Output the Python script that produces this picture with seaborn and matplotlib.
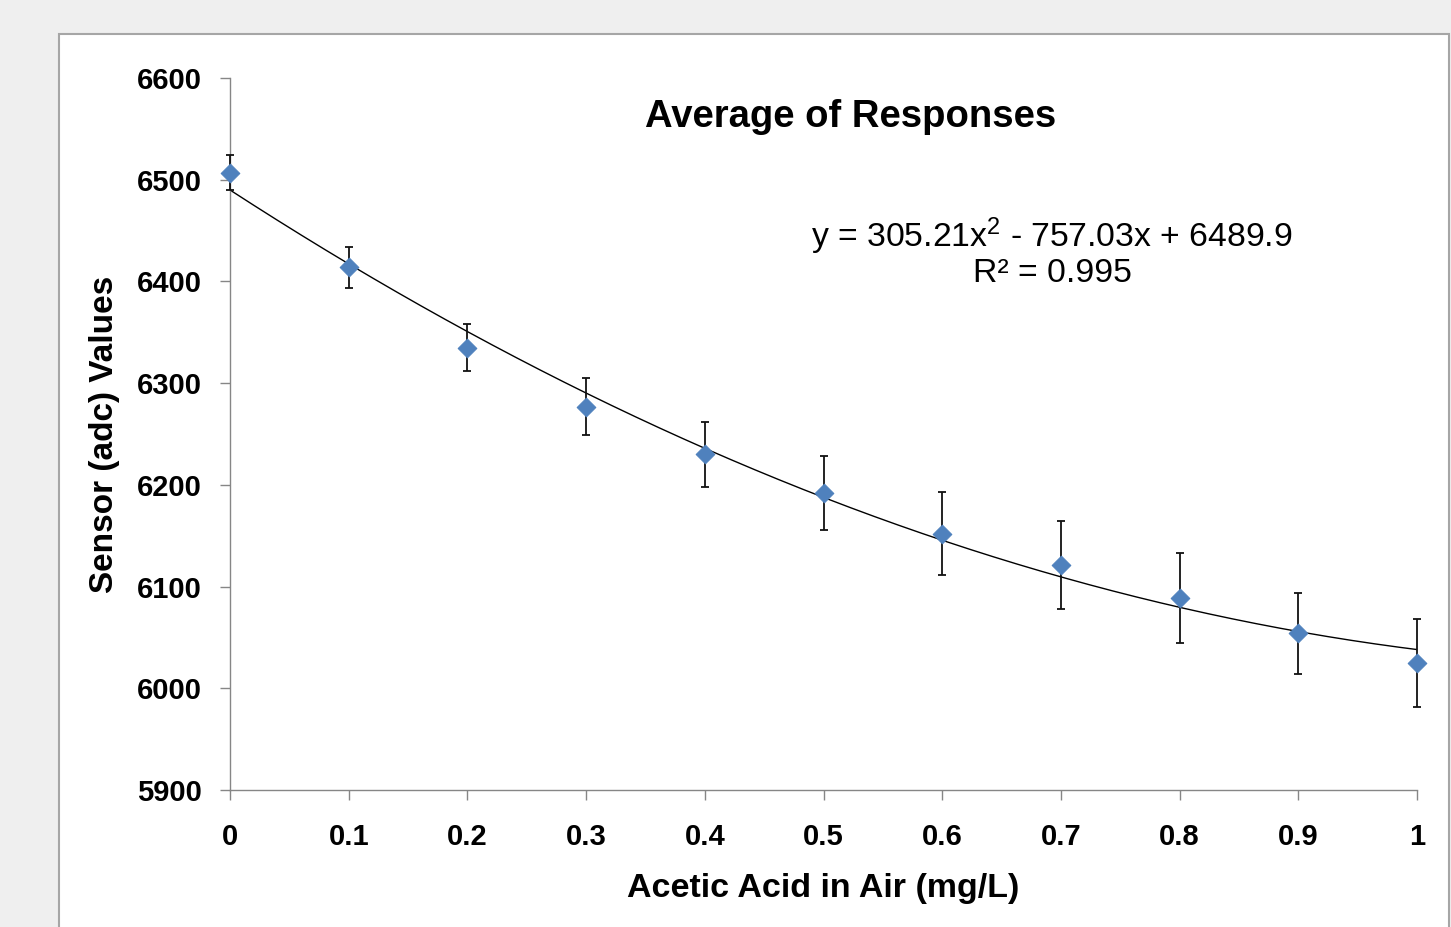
import numpy as np
import pandas as pd
import seaborn as sns
import matplotlib.pyplot as plt
from matplotlib.patches import Rectangle

# concentration (mg/L) and averaged sensor readings
conc = [0, 0.1, 0.2, 0.3, 0.4, 0.5, 0.6, 0.7, 0.8, 0.9, 1.0]
avg_adc = [6507, 6414, 6335, 6277, 6230, 6192, 6152, 6121, 6089, 6054, 6025]
err_adc = [17, 20, 23, 28, 32, 36, 41, 43, 44, 40, 43]

# trendline coefficients (a x^2 + b x + c), as printed on the chart
trend_coef = [305.21, -757.03, 6489.9]
r_squared = 0.995

y_ticks = [5900, 6000, 6100, 6200, 6300, 6400, 6500, 6600]
x_labels = ["0", "0.1", "0.2", "0.3", "0.4", "0.5", "0.6", "0.7", "0.8", "0.9", "1"]

df = pd.DataFrame({"conc": conc, "adc": avg_adc, "err": err_adc})

sns.set_style("white")
plt.rcParams["font.family"] = ["Liberation Sans", "DejaVu Sans"]
plt.rcParams["text.color"] = "black"
plt.rcParams["axes.labelcolor"] = "black"
plt.rcParams["xtick.labelcolor"] = "black"
plt.rcParams["ytick.labelcolor"] = "black"
plt.rcParams["mathtext.default"] = "regular"

fig = plt.figure(figsize=(14.51, 9.27), dpi=100)
fig.patch.set_facecolor("#efefef")
# white chart area with a grey frame
fig.patches.append(Rectangle((59 / 1451, -0.05), (1449 - 59) / 1451, 1.05 - 34 / 927,
                             transform=fig.transFigure, facecolor="white",
                             edgecolor="#a6a6a6", linewidth=1.5, zorder=-1))

ax = fig.add_axes([230 / 1451, 1 - 790 / 927, (1417 - 230) / 1451, (790 - 78) / 927])
ax.set_facecolor("none")
ax.set_zorder(2)

xs = np.linspace(0, 1, 200)
fit = pd.DataFrame({"x": xs, "y": np.polyval(trend_coef, xs)})
sns.lineplot(data=fit, x="x", y="y", ax=ax, color="black", linewidth=1.0, zorder=2)

ax.errorbar(df["conc"], df["adc"], yerr=df["err"], fmt="none", ecolor="#111111",
            elinewidth=1.3, capsize=3, capthick=1.3, zorder=3, clip_on=False)
sns.scatterplot(data=df, x="conc", y="adc", ax=ax, marker="D", s=90, color="#4f81bd",
                edgecolor="#4f81bd", zorder=4, clip_on=False)

ax.set_xlim(0, 1)
ax.set_ylim(5900, 6600)
ax.set_yticks(y_ticks)
ax.set_xticks(conc)
ax.set_xticklabels(x_labels)
for lab in ax.get_xticklabels() + ax.get_yticklabels():
    lab.set_fontweight("bold")
ax.tick_params(axis="both", labelsize=21, length=7, width=1, color="#868686",
               direction="out", bottom=True, left=True)
ax.tick_params(axis="x", pad=17)
ax.tick_params(axis="y", pad=13)

for s in ["top", "right"]:
    ax.spines[s].set_visible(False)
for s in ["left", "bottom"]:
    ax.spines[s].set_color("#868686")
    ax.spines[s].set_linewidth(1)

ax.set_xlabel("Acetic Acid in Air (mg/L)", fontsize=24.5, fontweight="bold", va="center")
ax.set_ylabel("Sensor (adc) Values", fontsize=24, fontweight="bold", va="center")
ax.xaxis.set_label_coords(0.5, -(889 - 790) / 712)
ax.yaxis.set_label_coords(-(230 - 105) / 1187, 0.5)

fig.text(851 / 1451, 1 - 117 / 927, "Average of Responses", fontsize=27.5, fontweight="bold",
         ha="center", va="center")
eq = "y = {:.2f}x$^2$ - {:.2f}x + {:.1f}".format(trend_coef[0], -trend_coef[1], trend_coef[2])
fig.text(1052 / 1451, 1 - 236 / 927, eq, fontsize=24.3, ha="center", va="center")
fig.text(1052 / 1451, 1 - 273 / 927, "R² = {}".format(r_squared), fontsize=24.3,
         ha="center", va="center")

fig.savefig("out.png", dpi=100, facecolor=fig.get_facecolor())
